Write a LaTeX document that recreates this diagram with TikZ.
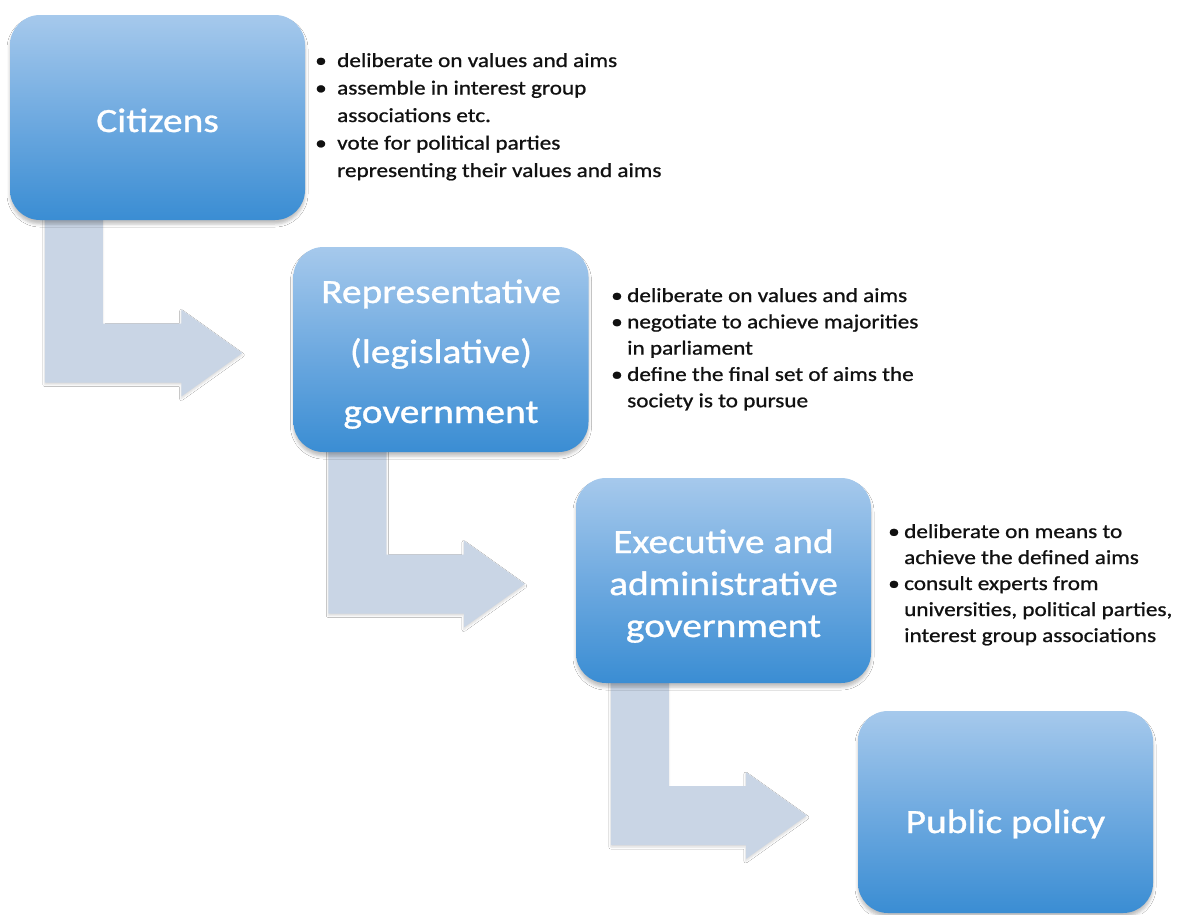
\documentclass[tikz,border=0pt]{standalone}
\usepackage{fontspec}
\setmainfont{Carlito}[FakeStretch=1.16, FakeBold=0.9]
\usetikzlibrary{calc,shadows.blur}
\definecolor{boxtop}{HTML}{A6C9EC}
\definecolor{boxmid}{HTML}{6FAAE0}
\definecolor{boxbot}{HTML}{3A8DD3}
\definecolor{arrowfill}{HTML}{C9D5E5}
\definecolor{bodytext}{HTML}{111111}
\pgfdeclarelayer{background}
\pgfsetlayers{background,main}
\newcommand{\bul}[2]{\hbox{\makebox[#1][l]{\textbullet}#2}}
\newcommand{\cont}[2]{\hbox{\hspace*{#1}#2}}
\newcommand{\bentarrow}[2]{%
  \fill[arrowfill, blur shadow={shadow xshift=0pt, shadow yshift=-2pt, shadow blur radius=2pt, shadow opacity=15}]
    let \p1=(#1.south west), \p2=(#2.west) in
    ({\x1+35pt},{\y1+10pt}) -- ({\x1+93pt},{\y1+10pt}) -- ({\x1+93pt},{\y2+26pt})
    -- ({\x2-112pt},{\y2+26pt}) -- ({\x2-112pt},{\y2+40pt}) -- ({\x2-51pt},{\y2-3.5pt})
    -- ({\x2-112pt},{\y2-47pt}) -- ({\x2-112pt},{\y2-33pt}) -- ({\x1+35pt},{\y2-33pt}) -- cycle;}
\tikzset{
  stagebox/.style={rectangle, rounded corners=30pt, minimum width=295pt, minimum height=205pt,
    inner sep=0pt, shading=axis, top color=boxtop, bottom color=boxbot, middle color=boxmid,
    blur shadow={shadow xshift=0pt, shadow yshift=-4pt, shadow blur radius=3pt, shadow opacity=25}},
  titletext/.style={text=white, inner sep=0pt, anchor=base, font=\fontsize{34}{42}\selectfont},
  bullettext/.style={text=bodytext, inner sep=0pt, anchor=base west, font=\fontsize{20}{27.5}\selectfont}
}
\begin{document}
\begin{tikzpicture}[x=1pt,y=-1pt]
\useasboundingbox (0,0) rectangle (1181,914);

% boxes
\node[stagebox] (citizens) at (157.5,117.5) {};
\node[stagebox] (repr) at (441,349.5) {};
\node[stagebox] (exec) at (723.5,580.5) {};
\node[stagebox, minimum height=202pt] (policy) at (1005.5,812) {};

% titles
\node[titletext] (citizenstitle) at (157.5,132) {Citizens};
\node[titletext, font=\fontsize{34}{60}\selectfont] (reprtitle) at (441,303)
  {\begin{tabular}[t]{@{}c@{}}Representative\\(legislative)\\government\end{tabular}};
\node[titletext, font=\fontsize{34}{42}\selectfont] (exectitle) at (723.5,553)
  {\begin{tabular}[t]{@{}c@{}}Executive and\\administrative\\government\end{tabular}};
\node[titletext] (policytitle) at (1005.5,833) {Public policy};

% bullet lists
\node[bullettext] (citizenslist) at (315,67) {\vtop{%
  \bul{22pt}{deliberate on values and aims}%
  \bul{22pt}{assemble in interest group}%
  \cont{22pt}{associations etc.}%
  \bul{22pt}{vote for political parties}%
  \cont{22pt}{representing their values and aims}}};
\node[bullettext, font=\fontsize{20}{26.3}\selectfont] (reprlist) at (611,302) {\vtop{%
  \bul{16pt}{deliberate on values and aims}%
  \bul{16pt}{negotiate to achieve majorities}%
  \cont{16pt}{in parliament}%
  \bul{16pt}{define the final set of aims the}%
  \cont{16pt}{society is to pursue}}};
\node[bullettext, font=\fontsize{20}{26}\selectfont] (execlist) at (888,538) {\vtop{%
  \bul{16pt}{deliberate on means to}%
  \cont{16pt}{achieve the defined aims}%
  \bul{16pt}{consult experts from}%
  \cont{16pt}{universities, political parties,}%
  \cont{16pt}{interest group associations}}};

% connectors
\begin{pgfonlayer}{background}
\fill[white] (0,0) rectangle (1181,914);
\bentarrow{citizens}{repr}
\bentarrow{repr}{exec}
\bentarrow{exec}{policy}
\end{pgfonlayer}
\end{tikzpicture}
\end{document}
